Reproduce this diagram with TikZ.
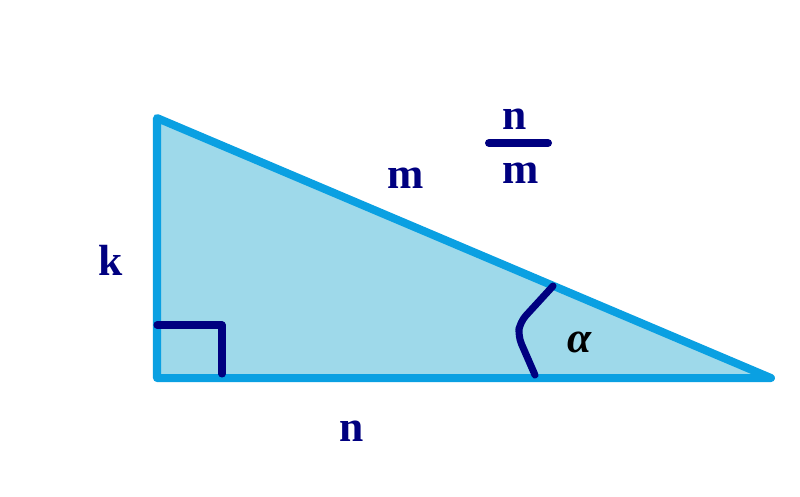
\documentclass[tikz,border=0pt]{standalone}
\usepackage{fontspec}
\setmainfont{Liberation Serif}
\definecolor{sideblue}{HTML}{0AA0E2}
\definecolor{fillblue}{HTML}{9ED9EA}
\definecolor{navy}{HTML}{000080}
\tikzset{
  lbl/.style={inner sep=0pt, text=navy, font=\fontsize{31}{36}\selectfont\bfseries},
  anglemark/.style={draw=navy, line width=5pt, line cap=round, line join=round}
}
\begin{document}
\begin{tikzpicture}[x=0.025cm, y=-0.025cm]
  \useasboundingbox (0,0) rectangle (800,496);
  % triangle
  \coordinate (A) at (157,118);
  \coordinate (B) at (157,378);
  \coordinate (C) at (771,378);
  \filldraw[fill=fillblue, draw=sideblue, line width=5.7pt, line join=round] (A) -- (B) -- (C) -- cycle;

  % right angle and angle marks
  \draw[anglemark] (157,325) -- (222,325) -- (222,374);
  \draw[anglemark, rounded corners=6pt] (553,286) -- (520,322) -- (518,336) -- (535,375);

  \node[lbl] (k) at (111,260) {k};
  \node[lbl] (m) at (406,178) {m};
  \node[lbl] (n) at (352,431) {n};
  \node[inner sep=0pt, font=\fontsize{31}{36}\selectfont\bfseries\itshape] (alpha) at (580,342) {α};

  % fraction
  \node[lbl] (num) at (515,119) {n};
  \node[lbl] (den) at (521,173) {m};
  \draw[anglemark, line width=5.7pt] (489,143) -- (548,143);
\end{tikzpicture}
\end{document}
